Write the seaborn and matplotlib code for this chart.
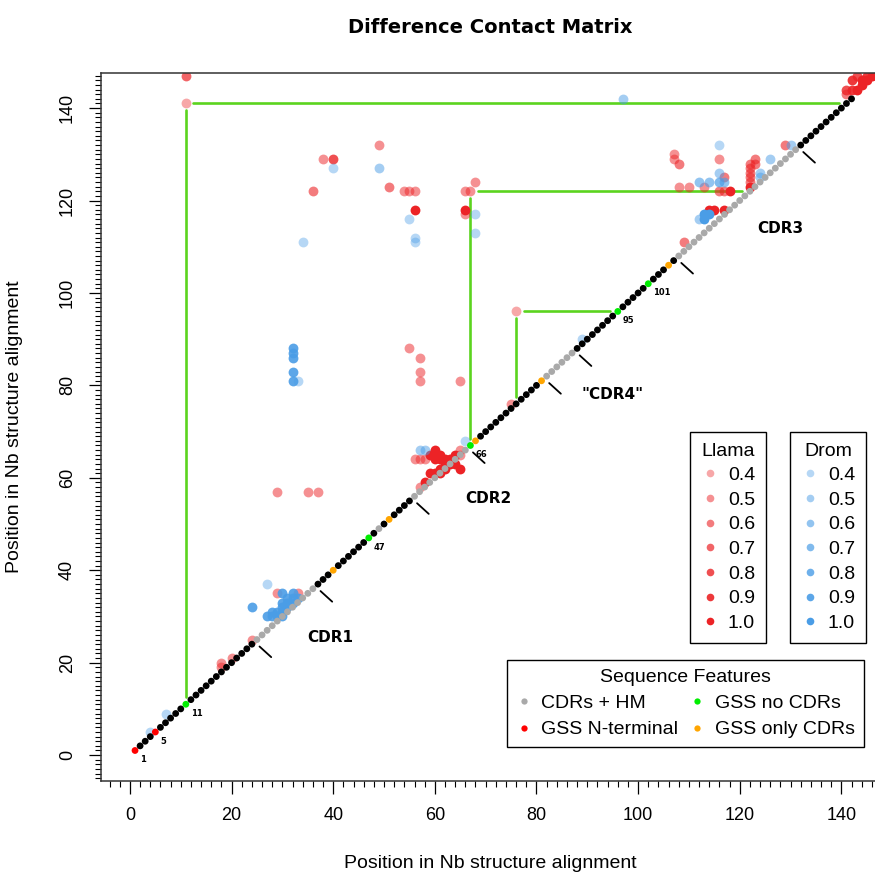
import matplotlib
matplotlib.use("Agg")
import matplotlib.pyplot as plt
import matplotlib.ticker as mticker
from matplotlib.lines import Line2D
import seaborn as sns
import pandas as pd

# ---- data ----
diag_positions = list(range(1, 143))
gss_nterm = [1, 5]
gss_no_cdrs = [11, 47, 67, 96, 102]
gss_only_cdrs = [40, 51, 68, 81, 106]
cdrs_hm = [*range(25, 37), 49, *range(56, 67), *range(82, 88), *range(108, 132)]

# residue labels written next to the diagonal (position, text)
label_pos = [1, 5, 11, 47, 67, 96, 102]
label_txt = ["1", "5", "11", "47", "66", "95", "101"]

# CDR boundary marks and region names
cdr_bounds = [24.5, 36.5, 55.5, 66.5, 81.5, 87.5, 107.5, 131.5]
region_names = ["CDR1", "CDR2", '"CDR4"', "CDR3"]
region_x = [39.5, 70.5, 95, 128]
region_y = [25.5, 55.5, 78, 114]

# green links (i, j)
link_i = [11, 67, 76]
link_j = [141, 122, 96]

llama_x = [11, 11, 38, 40, 49, 51, 36, 54, 55, 56, 56, 66, 67, 68, 66, 66,
           55, 57, 57, 57, 65, 29, 35, 37, 76, 75, 65, 65,
           56, 57, 58, 57, 60, 59, 60, 61, 60, 61, 62, 63, 64, 63, 62, 61,
           60, 59, 61, 62, 64, 65, 58,
           18, 18, 20, 24, 29, 33,
           107, 107, 108, 108, 110, 113, 116, 117, 116, 117, 118, 114, 115, 117,
           122, 122, 122, 122, 122, 122, 123, 123, 129, 109,
           141, 141, 142, 143, 142, 144, 145, 145, 143, 146, 144, 147]
llama_y = [147, 141, 129, 129, 132, 123, 122, 122, 122, 122, 118, 122, 122, 124, 118, 117,
           88, 86, 83, 81, 81, 57, 57, 57, 96, 76, 66, 65,
           64, 64, 64, 58, 66, 65, 65, 65, 64, 64, 64, 64, 65, 63, 63, 62,
           61, 61, 61, 62, 63, 62, 59,
           20, 19, 21, 25, 35, 35,
           130, 129, 128, 123, 123, 123, 129, 125, 122, 122, 122, 118, 118, 118,
           128, 127, 126, 125, 124, 123, 129, 128, 132, 111,
           143, 144, 144, 144, 146, 145, 146, 147, 147, 147, 146, 147]
llama_score = [0.7, 0.4, 0.5, 0.8, 0.5, 0.6, 0.6, 0.5, 0.5, 0.5, 1.0, 0.5, 0.5, 0.5, 1.0, 0.5,
               0.5, 0.5, 0.5, 0.5, 0.5, 0.5, 0.5, 0.5, 0.4, 0.5, 0.5, 0.5,
               0.5, 0.5, 0.5, 0.5, 1.0, 1.0, 1.0, 1.0, 1.0, 1.0, 1.0, 1.0, 1.0, 1.0, 1.0, 1.0,
               1.0, 1.0, 1.0, 1.0, 1.0, 1.0, 1.0,
               0.5, 0.5, 0.5, 0.5, 0.5, 0.5,
               0.5, 0.5, 0.6, 0.5, 0.5, 0.5, 0.5, 0.6, 0.6, 0.6, 1.0, 1.0, 1.0, 1.0,
               0.6, 0.6, 0.6, 0.6, 0.6, 1.0, 0.6, 0.6, 0.6, 0.6,
               0.6, 0.8, 0.9, 1.0, 0.9, 1.0, 1.0, 0.9, 0.8, 1.0, 1.0, 1.0]

drom_x = [40, 49, 34, 97, 55, 56, 56, 68, 68,
          32, 32, 32, 32, 32, 33,
          4, 7, 27, 24,
          30, 32, 31, 32, 31, 32, 30, 31, 30, 29, 30, 28, 27, 28, 29, 30, 33,
          57, 58, 66, 89,
          116, 116, 112, 114, 116, 117, 113, 114, 113, 112, 124, 124, 126, 130]
drom_y = [127, 127, 111, 142, 116, 112, 111, 117, 113,
          88, 87, 86, 83, 81, 81,
          5, 9, 37, 32,
          35, 35, 34, 34, 33, 33, 33, 32, 32, 31, 31, 31, 30, 30, 30, 30, 34,
          66, 66, 68, 90,
          132, 126, 124, 124, 124, 124, 117, 117, 116, 116, 126, 125, 129, 132]
drom_score = [0.4, 0.5, 0.4, 0.5, 0.4, 0.4, 0.4, 0.4, 0.4,
              0.9, 0.9, 0.9, 0.9, 0.9, 0.4,
              0.4, 0.4, 0.4, 0.9,
              0.9, 0.9, 0.9, 0.9, 0.9, 0.9, 0.9, 0.9, 0.9, 0.9, 0.9, 0.9, 0.9, 0.9, 0.9, 0.9, 0.9,
              0.5, 0.5, 0.4, 0.4,
              0.4, 0.5, 0.6, 0.6, 0.7, 0.6, 1.0, 1.0, 1.0, 0.5, 0.5, 0.5, 0.5, 0.5]

score_levels = [0.4, 0.5, 0.6, 0.7, 0.8, 0.9, 1.0]

LLAMA = "#EC2326"
DROM = "#4A9DE6"
LINK = "#5BD41E"
FEAT_COLORS = {"black": "black", "CDRs + HM": "#A9A9A9", "GSS N-terminal": "#FF0000",
               "GSS no CDRs": "#00EE00", "GSS only CDRs": "#FFA500"}

# ---- build frames ----
def feature(p):
    if p in gss_nterm:
        return "GSS N-terminal"
    if p in gss_no_cdrs:
        return "GSS no CDRs"
    if p in gss_only_cdrs:
        return "GSS only CDRs"
    if p in cdrs_hm:
        return "CDRs + HM"
    return "black"

diag = pd.DataFrame({"pos": diag_positions})
diag["feature"] = diag["pos"].apply(feature)

contacts = pd.concat([
    pd.DataFrame({"x": llama_x, "y": llama_y, "score": llama_score, "species": "Llama"}),
    pd.DataFrame({"x": drom_x, "y": drom_y, "score": drom_score, "species": "Drom"}),
])

# ---- plot ----
sns.set_style("ticks")
plt.rcParams["font.family"] = ["Liberation Sans", "DejaVu Sans"]
plt.rcParams.update({"text.color": "black", "axes.labelcolor": "black",
                     "xtick.color": "black", "ytick.color": "black"})

fig = plt.figure(figsize=(8.75, 8.73), dpi=100)
ax = fig.add_axes([0.1154, 0.1054, 0.8903, 0.811])

# green links
for i, j in zip(link_i, link_j):
    ax.plot([i, i], [i + 1.5, j - 1.5], color=LINK, lw=1.9, zorder=1)
    ax.plot([i + 1.5, j - 1.5], [j, j], color=LINK, lw=1.9, zorder=1)

# contacts, one call per score level so alpha follows the score
for species, col in [("Llama", LLAMA), ("Drom", DROM)]:
    for lev in score_levels:
        sub = contacts[(contacts["species"] == species) & (contacts["score"] == lev)]
        if len(sub):
            sns.scatterplot(data=sub, x="x", y="y", color=col, alpha=lev, s=50,
                            linewidth=0, ax=ax, legend=False, zorder=2)

# diagonal
sns.scatterplot(data=diag, x="pos", y="pos", hue="feature", palette=FEAT_COLORS,
                s=24, linewidth=0, ax=ax, legend=False, zorder=3)

# boundary marks
for b in cdr_bounds:
    ax.plot([b + 1.0, b + 3.3], [b - 1.0, b - 3.3], color="black", lw=1.3, zorder=3)

for p, t in zip(label_pos, label_txt):
    ax.text(p + 1.0, p - 2.0, t, fontsize=6, fontweight="bold", family="DejaVu Sans",
            ha="left", va="center")

for t, x, y in zip(region_names, region_x, region_y):
    ax.text(x, y, t, fontsize=11, fontweight="bold", family="DejaVu Sans",
            ha="center", va="center")

# axes
ax.set_xlim(-5.7, 147.6)
ax.set_ylim(-5.6, 147.6)
ax.set_xticks(range(0, 141, 20))
ax.set_yticks(range(0, 141, 20))
ax.xaxis.set_minor_locator(mticker.MultipleLocator(2))
ax.yaxis.set_minor_locator(mticker.MultipleLocator(1))
ax.tick_params(which="major", direction="out", length=9, width=0.9, labelsize=13,
               color="black", pad=10)
ax.tick_params(which="minor", direction="out", length=4, width=0.8, color="black")
ax.tick_params(axis="y", which="major", pad=9)
for lab in ax.get_yticklabels():
    lab.set_rotation(90)
    lab.set_va("center")
for s in ax.spines.values():
    s.set_color("#333333")
    s.set_linewidth(1.1)

ax.set_xlabel("Position in Nb structure alignment", fontsize=14, labelpad=22)
ax.set_ylabel("Position in Nb structure alignment", fontsize=14, labelpad=26)
fig.text(0.56, 0.969, "Difference Contact Matrix", fontsize=14, fontweight="bold",
         family="DejaVu Sans", ha="center", va="center")

# legends
def dot(col, a=1.0, ms=5.5):
    return Line2D([], [], marker="o", linestyle="", color=col, alpha=a,
                  markersize=ms, markeredgewidth=0)

leg_kw = dict(loc="upper left", bbox_transform=fig.transFigure, frameon=True,
              fancybox=False, edgecolor="black", framealpha=1, fontsize=14,
              title_fontsize=14, handletextpad=0.4, handlelength=1.0,
              labelspacing=0.36, borderpad=0.55, borderaxespad=0)
labels = [f"{v:.1f}" for v in score_levels]
leg1 = ax.legend(handles=[dot(LLAMA, v) for v in score_levels], labels=labels,
                 title="Llama", bbox_to_anchor=(0.7886, 0.5052), **leg_kw)
ax.add_artist(leg1)
leg2 = ax.legend(handles=[dot(DROM, v) for v in score_levels], labels=labels,
                 title="Drom", bbox_to_anchor=(0.9029, 0.5052), **leg_kw)
ax.add_artist(leg2)
feat_names = ["CDRs + HM", "GSS N-terminal", "GSS no CDRs", "GSS only CDRs"]
leg3 = ax.legend(handles=[dot(FEAT_COLORS[f], 1.0, 4.5) for f in feat_names],
                 labels=feat_names, title="Sequence Features", ncol=2,
                 loc="upper left", bbox_to_anchor=(0.5794, 0.2440),
                 bbox_transform=fig.transFigure, frameon=True, fancybox=False,
                 edgecolor="black", framealpha=1, fontsize=14, title_fontsize=14,
                 handletextpad=0.5, handlelength=0.8, labelspacing=0.45,
                 columnspacing=0.6, borderpad=0.45, borderaxespad=0)
for leg in (leg1, leg2, leg3):
    leg.get_frame().set_linewidth(1.0)

fig.savefig("out.png", dpi=100)
